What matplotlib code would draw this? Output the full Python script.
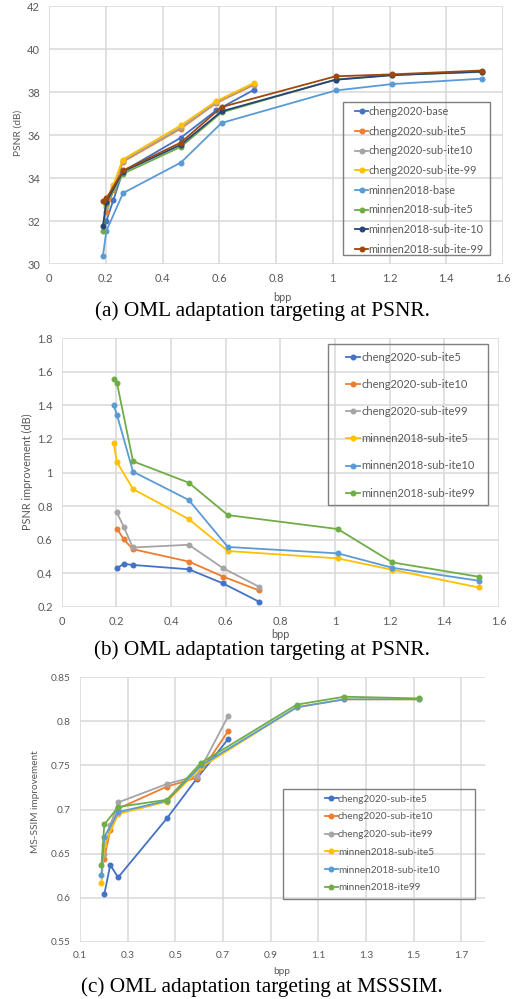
import matplotlib
matplotlib.use("Agg")
import matplotlib.pyplot as plt
from matplotlib.patches import Rectangle

# ---------------- data ----------------
cheng_bpp = [0.202, 0.227, 0.260, 0.465, 0.590, 0.722]
minnen_bpp = [0.190, 0.202, 0.261, 0.465, 0.608, 1.010, 1.210, 1.525]

# (a) PSNR
a_labels = ["cheng2020-base", "cheng2020-sub-ite5", "cheng2020-sub-ite10", "cheng2020-sub-ite-99",
            "minnen2018-base", "minnen2018-sub-ite5", "minnen2018-sub-ite-10", "minnen2018-sub-ite-99"]
a_cheng_base = [32.00, 32.98, 34.30, 35.88, 37.15, 38.10]
a_cheng_ite5 = [32.43, 33.45, 34.75, 36.30, 37.49, 38.33]
a_cheng_ite10 = [32.67, 33.60, 34.80, 36.35, 37.53, 38.38]
a_cheng_ite99 = [32.76, 33.68, 34.86, 36.45, 37.58, 38.42]
a_minnen_base = [30.36, 31.53, 33.30, 34.72, 36.56, 38.07, 38.37, 38.62]
a_minnen_ite5 = [31.53, 32.80, 34.20, 35.45, 37.05, 38.58, 38.80, 38.93]
a_minnen_ite10 = [31.75, 32.90, 34.30, 35.55, 37.10, 38.57, 38.78, 38.95]
a_minnen_ite99 = [32.93, 33.05, 34.35, 35.65, 37.30, 38.73, 38.82, 39.00]

# (b) PSNR improvement
b_labels = ["cheng2020-sub-ite5", "cheng2020-sub-ite10", "cheng2020-sub-ite99",
            "minnen2018-sub-ite5", "minnen2018-sub-ite10", "minnen2018-sub-ite99"]
b_cheng_ite5 = [0.430, 0.455, 0.449, 0.423, 0.339, 0.230]
b_cheng_ite10 = [0.666, 0.602, 0.543, 0.469, 0.380, 0.297]
b_cheng_ite99 = [0.762, 0.676, 0.553, 0.569, 0.430, 0.319]
b_minnen_ite5 = [1.177, 1.062, 0.901, 0.722, 0.532, 0.488, 0.420, 0.315]
b_minnen_ite10 = [1.400, 1.345, 1.005, 0.836, 0.556, 0.518, 0.432, 0.355]
b_minnen_ite99 = [1.555, 1.535, 1.067, 0.939, 0.746, 0.663, 0.464, 0.379]

# (c) MS-SSIM
c_labels = ["cheng2020-sub-ite5", "cheng2020-sub-ite10", "cheng2020-sub-ite99",
            "minnen2018-sub-ite5", "minnen2018-sub-ite10", "minnen2018-ite99"]
c_cheng_ite5 = [0.604, 0.637, 0.623, 0.690, 0.735, 0.780]
c_cheng_ite10 = [0.644, 0.677, 0.701, 0.726, 0.736, 0.789]
c_cheng_ite99 = [0.650, 0.682, 0.708, 0.729, 0.738, 0.806]
c_minnen_ite5 = [0.617, 0.660, 0.695, 0.709, 0.748, 0.816, 0.825, 0.825]
c_minnen_ite10 = [0.626, 0.669, 0.697, 0.710, 0.750, 0.816, 0.825, 0.825]
c_minnen_ite99 = [0.637, 0.683, 0.703, 0.711, 0.753, 0.819, 0.828, 0.826]

captions = ["(a) OML adaptation targeting at PSNR.",
            "(b) OML adaptation targeting at PSNR.",
            "(c) OML adaptation targeting at MSSSIM."]

# ---------------- style ----------------
BLUE, ORANGE, GRAY, YELLOW = "#4472C4", "#ED7D31", "#A5A5A5", "#FFC000"
LBLUE, GREEN, NAVY, BROWN = "#5B9BD5", "#70AD47", "#264478", "#9E480E"
TXT = "#595959"
GRID = "#D9D9D9"

plt.rcParams['font.family'] = ['Lato', 'DejaVu Sans']

W, H = 516, 999
fig = plt.figure(figsize=(W / 100, H / 100), dpi=100)


def axes_px(l, t, r, b):
    return fig.add_axes([l / W, 1 - b / H, (r - l) / W, (b - t) / H])


def style(ax, xlim, ylim, xt, yt, xfmt, yfmt, fs):
    ax.set_xlim(*xlim)
    ax.set_ylim(*ylim)
    ax.set_xticks(xt)
    ax.set_yticks(yt)
    ax.set_xticklabels([xfmt(v) for v in xt])
    ax.set_yticklabels([yfmt(v) for v in yt])
    for s in ax.spines.values():
        s.set_visible(False)
    ax.grid(True, color=GRID, linewidth=1.1, zorder=0)
    ax.set_axisbelow(True)
    ax.tick_params(length=0, labelsize=fs, labelcolor=TXT, pad=6.5)


def g(v):
    s = ("%.2f" % v).rstrip("0").rstrip(".")
    return s


def plot_series(ax, xs, ys, color, label):
    ax.plot(xs, ys, color=color, lw=1.3, marker='o', ms=3.3, label=label,
            clip_on=False, zorder=3)


def legend_box(ax, l, t, r, b, hx, ty, fs, ls, hl):
    fig.patches.append(Rectangle((l / W, 1 - b / H), (r - l) / W, (b - t) / H,
                                 transform=fig.transFigure, fill=False,
                                 edgecolor="#7F7F7F", lw=1.0))
    leg = ax.legend(loc='upper left', bbox_to_anchor=(hx / W, 1 - ty / H),
                    bbox_transform=fig.transFigure, frameon=False, fontsize=fs,
                    labelspacing=ls, handlelength=hl, handletextpad=0.05,
                    borderpad=0, borderaxespad=0, numpoints=1, markerscale=1.0)
    for t_ in leg.get_texts():
        t_.set_color(TXT)


# ---------------- (a) ----------------
axa = axes_px(49, 6, 503, 264)
style(axa, (0, 1.6), (30, 42), [0, 0.2, 0.4, 0.6, 0.8, 1.0, 1.2, 1.4, 1.6],
      [30, 32, 34, 36, 38, 40, 42], g, g, 8.0)
a_series = [(cheng_bpp, a_cheng_base, BLUE), (cheng_bpp, a_cheng_ite5, ORANGE),
            (cheng_bpp, a_cheng_ite10, GRAY), (cheng_bpp, a_cheng_ite99, YELLOW),
            (minnen_bpp, a_minnen_base, LBLUE), (minnen_bpp, a_minnen_ite5, GREEN),
            (minnen_bpp, a_minnen_ite10, NAVY), (minnen_bpp, a_minnen_ite99, BROWN)]
for (xs, ys, c), lab in zip(a_series, a_labels):
    plot_series(axa, xs, ys, c, lab)
legend_box(axa, 343, 102, 490, 255, 355, 106, 7.8, 0.8, 1.2)
fig.text(18 / W, 1 - 133 / H, "PSNR (dB)", rotation=90, ha='center', va='center',
         fontsize=7.4, color=TXT)
fig.text(282 / W, 1 - 297 / H, "bpp", ha='center', va='center', fontsize=7.8, color=TXT)
fig.text(262 / W, 1 - 311 / H, captions[0], ha='center', va='center', fontsize=15.3,
         family='Liberation Serif', color='black')

# ---------------- (b) ----------------
axb = axes_px(61.7, 338.3, 499, 606.7)
style(axb, (0, 1.6), (0.2, 1.8), [0, 0.2, 0.4, 0.6, 0.8, 1.0, 1.2, 1.4, 1.6],
      [0.2, 0.4, 0.6, 0.8, 1.0, 1.2, 1.4, 1.6, 1.8], g, g, 8.0)
b_series = [(cheng_bpp, b_cheng_ite5, BLUE), (cheng_bpp, b_cheng_ite10, ORANGE),
            (cheng_bpp, b_cheng_ite99, GRAY), (minnen_bpp, b_minnen_ite5, YELLOW),
            (minnen_bpp, b_minnen_ite10, LBLUE), (minnen_bpp, b_minnen_ite99, GREEN)]
for (xs, ys, c), lab in zip(b_series, b_labels):
    plot_series(axb, xs, ys, c, lab)
legend_box(axb, 328, 344, 488, 505, 346, 352, 8.0, 1.45, 1.3)
fig.text(27 / W, 1 - 472 / H, "PSNR improvement (dB)", rotation=90, ha='center',
         va='center', fontsize=7.8, color=TXT)
fig.text(280 / W, 1 - 634 / H, "bpp", ha='center', va='center', fontsize=7.8, color=TXT)
fig.text(262 / W, 1 - 650 / H, captions[1], ha='center', va='center', fontsize=15.3,
         family='Liberation Serif', color='black')

# ---------------- (c) ----------------
axc = axes_px(80, 677.3, 485, 941.7)
style(axc, (0.1, 1.8), (0.55, 0.85), [0.1, 0.3, 0.5, 0.7, 0.9, 1.1, 1.3, 1.5, 1.7],
      [0.55, 0.6, 0.65, 0.7, 0.75, 0.8, 0.85], g, g, 7.3)
c_series = [(cheng_bpp, c_cheng_ite5, BLUE), (cheng_bpp, c_cheng_ite10, ORANGE),
            (cheng_bpp, c_cheng_ite99, GRAY), (minnen_bpp, c_minnen_ite5, YELLOW),
            (minnen_bpp, c_minnen_ite10, LBLUE), (minnen_bpp, c_minnen_ite99, GREEN)]
for (xs, ys, c), lab in zip(c_series, c_labels):
    plot_series(axc, xs, ys, c, lab)
legend_box(axc, 283, 789, 475, 899, 325, 794.5, 7.2, 0.88, 1.25)
fig.text(35 / W, 1 - 802 / H, "MS-SSIM improvement", rotation=90, ha='center',
         va='center', fontsize=7.2, color=TXT)
fig.text(282 / W, 1 - 972 / H, "bpp", ha='center', va='center', fontsize=7.2, color=TXT)
fig.text(262 / W, 1 - 987 / H, captions[2], ha='center', va='center', fontsize=15.3,
         family='Liberation Serif', color='black')

fig.savefig("out.png", dpi=100)
